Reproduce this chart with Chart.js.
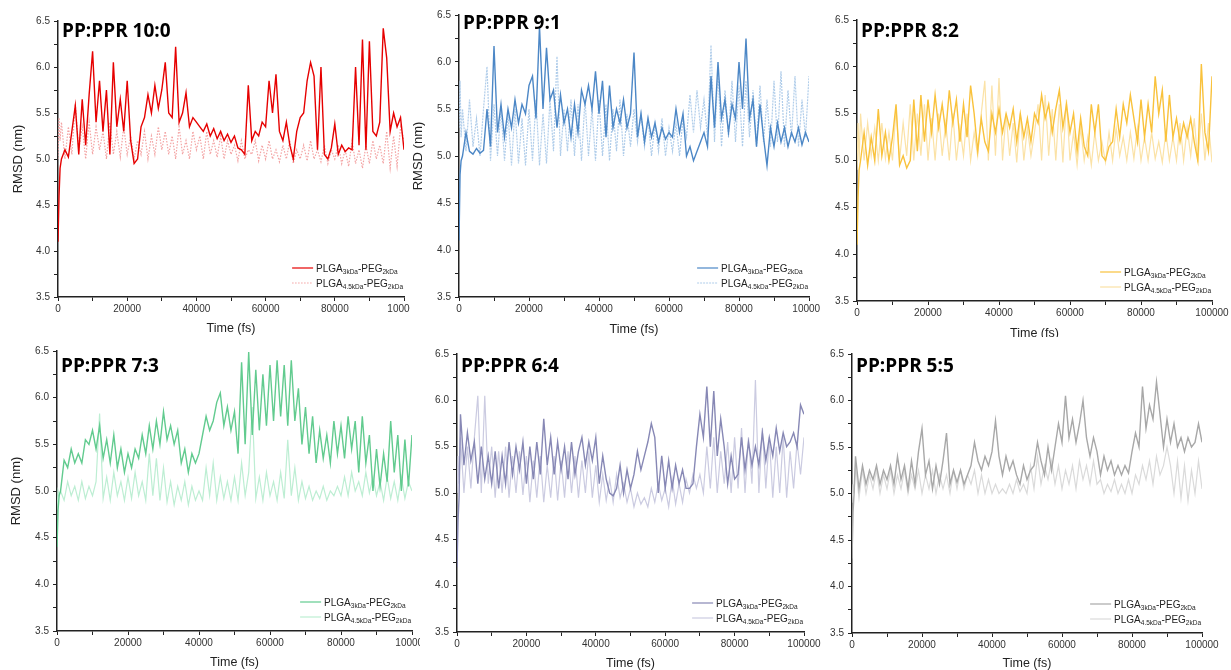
<!DOCTYPE html>
<html>
<head>
<meta charset="utf-8">
<script src="https://cdn.jsdelivr.net/npm/chart.js@4.4.0/dist/chart.umd.min.js"></script>
<style>
body { margin: 0; background: #fff; width: 1231px; height: 670px; overflow: hidden; position: relative; }
canvas { position: absolute; background: #fff; }
</style>
</head>
<body>
<canvas id="c1"></canvas>
<canvas id="c2"></canvas>
<canvas id="c3"></canvas>
<canvas id="c4"></canvas>
<canvas id="c5"></canvas>
<canvas id="c6"></canvas>
<script>
// time axis (fs)
var times = [0, 300, 600,
  1000, 2000, 3000, 4000, 5000, 6000, 7000, 8000, 9000, 10000,
  11000, 12000, 13000, 14000, 15000, 16000, 17000, 18000, 19000, 20000,
  21000, 22000, 23000, 24000, 25000, 26000, 27000, 28000, 29000, 30000,
  31000, 32000, 33000, 34000, 35000, 36000, 37000, 38000, 39000, 40000,
  41000, 42000, 43000, 44000, 45000, 46000, 47000, 48000, 49000, 50000,
  51000, 52000, 53000, 54000, 55000, 56000, 57000, 58000, 59000, 60000,
  61000, 62000, 63000, 64000, 65000, 66000, 67000, 68000, 69000, 70000,
  71000, 72000, 73000, 74000, 75000, 76000, 77000, 78000, 79000, 80000,
  81000, 82000, 83000, 84000, 85000, 86000, 87000, 88000, 89000, 90000,
  91000, 92000, 93000, 94000, 95000, 96000, 97000, 98000, 99000, 100000];

// PP:PPR 10:0
var r10_3k = [4.1, 4.6, 4.9,
  5.0, 5.1, 5.02, 5.3, 5.58, 5.05, 5.65, 5.15, 5.7, 6.17,
  5.4, 5.85, 5.3, 5.75, 5.05, 6.05, 5.35, 5.65, 5.3, 5.85,
  5.2, 4.95, 5.0, 5.35, 5.45, 5.7, 5.5, 5.8, 5.55, 5.75,
  6.05, 5.5, 5.45, 6.22, 5.4, 5.5, 5.72, 5.35, 5.45, 5.4,
  5.35, 5.3, 5.38, 5.25, 5.33, 5.22, 5.3, 5.2, 5.27, 5.18,
  5.25, 5.12, 5.1, 5.05, 5.8, 5.2, 5.3, 5.25, 5.4, 5.35,
  5.85, 5.5, 5.92, 5.3, 5.2, 5.4, 5.15, 5.0, 5.3, 5.45,
  5.5, 5.85, 6.05, 5.9, 5.1, 6.0, 5.05, 5.0, 5.12, 5.38,
  5.05, 5.15, 5.08, 5.12, 5.1, 6.0, 5.15, 6.3, 5.1, 6.28,
  5.3, 5.25, 5.4, 6.42, 6.1, 5.3, 5.5, 5.35, 5.45, 5.1];
var r10_45k = [5.0, 5.45, 5.2,
  5.4, 5.0, 5.35, 5.05, 5.6, 5.1, 5.35, 5.0, 5.4, 5.05,
  5.35, 5.1, 5.3, 5.0, 5.4, 5.05, 5.3, 5.02, 5.35, 5.05,
  5.25, 5.0, 5.2, 5.05, 5.3, 5.0, 5.25, 5.05, 5.35, 5.1,
  5.3, 5.05, 5.25, 5.0, 5.35, 5.05, 5.2, 5.0, 5.3, 5.1,
  5.25, 5.0, 5.3, 5.05, 5.2, 5.02, 5.25, 5.0, 5.2, 5.05,
  5.15, 4.98, 5.2, 5.0, 5.1, 5.05, 5.2, 4.98, 5.15, 5.0,
  5.2, 5.0, 5.1, 4.97, 5.15, 5.0, 5.2, 4.95, 5.1, 5.0,
  5.15, 4.98, 5.2, 5.0, 5.1, 4.97, 5.15, 4.95, 5.1, 5.0,
  5.15, 4.95, 5.1, 4.92, 5.2, 4.95, 5.1, 4.9, 5.15, 4.95,
  5.2, 5.0, 5.15, 4.95, 5.3, 4.9, 5.25, 4.92, 5.35, 5.2];

// PP:PPR 9:1
var r9_3k = [4.1, 4.8, 4.95,
  5.0, 5.25, 5.05, 5.02, 5.08, 5.03, 5.06, 5.5, 5.1, 6.17,
  5.25, 5.55, 5.2, 5.5, 5.3, 5.6, 5.35, 5.55, 5.45, 5.75,
  5.85, 5.4, 6.38, 5.5, 6.15, 5.6, 5.7, 5.3, 5.65, 5.35,
  5.5, 5.2, 5.55, 5.25, 5.7, 5.55, 5.75, 5.5, 5.9, 5.45,
  5.8, 5.2, 5.75, 5.3, 5.5, 5.35, 5.6, 5.3, 5.45, 6.1,
  5.2, 5.45, 5.15, 5.4, 5.2, 5.35, 5.15, 5.3, 5.18, 5.25,
  5.2, 5.5, 5.25, 5.45, 5.0, 5.1, 4.95, 5.05, 5.15, 5.25,
  5.1, 5.85, 5.3, 6.0, 5.4, 5.6, 5.25, 5.55, 5.4, 6.0,
  5.5, 6.25, 5.4, 5.6, 5.1, 5.55, 5.2, 4.9, 5.3, 5.1,
  5.35, 5.15, 5.3, 5.1, 5.25, 5.15, 5.3, 5.12, 5.25, 5.15];
var r9_45k = [5.3, 5.8, 5.2,
  5.5, 5.05, 5.6, 5.1, 5.4, 5.0, 5.5, 5.95, 4.95, 5.55,
  5.0, 5.5, 4.95, 5.45, 4.9, 5.5, 4.92, 5.4, 4.9, 5.5,
  4.95, 5.6, 4.9, 5.45, 4.92, 5.6, 5.05, 6.06, 5.0, 5.5,
  5.05, 5.6, 5.0, 5.55, 4.95, 5.6, 5.0, 5.5, 4.95, 5.6,
  5.0, 5.55, 4.95, 5.5, 5.05, 5.6, 5.0, 5.45, 5.1, 5.5,
  5.15, 5.45, 5.1, 5.4, 5.0, 5.35, 5.05, 5.4, 5.0, 5.3,
  5.05, 5.35, 5.0, 5.4, 5.2, 5.65, 5.25, 5.7, 5.3, 5.6,
  5.2, 6.18, 5.15, 5.9, 5.1, 5.7, 5.2, 5.8, 5.15, 5.75,
  5.1, 5.8, 5.2, 5.7, 5.1, 5.75, 5.15, 5.6, 5.1, 5.8,
  5.15, 5.9, 5.1, 5.7, 5.2, 5.85, 5.1, 5.6, 5.2, 5.85];

// PP:PPR 8:2
var r8_3k = [4.1, 4.6, 4.9,
  5.0, 5.3, 4.95, 5.25, 5.0, 5.55, 5.05, 5.3, 5.0, 5.25,
  5.6, 4.95, 5.05, 4.92, 5.0, 5.65, 5.1, 5.7, 5.2, 5.65,
  5.3, 5.7, 5.35, 5.6, 5.3, 5.75, 5.4, 5.65, 5.2, 5.6,
  5.25, 5.8, 5.5, 5.1, 5.45, 5.2, 5.1, 5.5, 5.3, 5.55,
  5.3, 5.5, 5.35, 5.55, 5.2, 5.5, 5.25, 5.45, 5.2, 5.5,
  5.4, 5.7, 5.45, 5.6, 5.3, 5.55, 5.75, 5.35, 5.6, 5.3,
  5.5, 5.1, 5.45, 5.15, 5.05, 5.6, 5.3, 5.6, 5.05, 5.0,
  5.15, 5.2, 5.55, 5.25, 5.6, 5.4, 5.7, 5.45, 5.2, 5.65,
  5.25, 5.6, 5.3, 5.9, 5.5, 5.75, 5.2, 5.7, 5.25, 5.45,
  5.2, 5.4, 5.25, 5.45, 5.2, 5.0, 6.03, 5.3, 5.1, 5.9];
var r8_45k = [4.9, 5.4, 5.0,
  5.5, 5.0, 5.4, 5.05, 5.35, 5.0, 5.4, 5.02, 5.3, 5.0,
  5.55, 5.0, 5.4, 5.05, 5.6, 5.0, 5.5, 5.05, 5.6, 5.0,
  5.45, 5.0, 5.5, 5.05, 5.4, 5.0, 5.5, 5.0, 5.35, 5.05,
  5.5, 5.0, 5.3, 5.05, 5.5, 5.85, 5.0, 5.8, 5.05, 5.88,
  5.0, 5.5, 5.05, 5.4, 4.98, 5.5, 5.0, 5.35, 5.05, 5.3,
  5.6, 5.0, 5.7, 5.05, 5.55, 5.0, 5.6, 4.98, 5.65, 5.0,
  5.3, 4.95, 5.35, 5.0, 5.25, 4.95, 5.3, 5.0, 5.2, 4.98,
  5.3, 5.0, 5.35, 5.05, 5.25, 5.0, 5.3, 5.02, 5.35, 5.0,
  5.25, 5.0, 5.3, 5.02, 5.2, 4.98, 5.3, 5.0, 5.25, 5.0,
  5.4, 5.0, 5.35, 5.05, 5.45, 4.98, 5.5, 5.0, 5.4, 4.98];

// PP:PPR 7:3
var r7_3k = [4.4, 4.8, 4.95,
  5.0, 5.33, 5.25, 5.45, 5.3, 5.4, 5.3, 5.55, 5.5, 5.65,
  5.45, 5.7, 5.35, 5.55, 5.3, 5.6, 5.25, 5.45, 5.2, 5.4,
  5.25, 5.45, 5.35, 5.6, 5.4, 5.7, 5.45, 5.75, 5.5, 5.85,
  5.55, 5.7, 5.5, 5.65, 5.3, 5.45, 5.2, 5.4, 5.3, 5.4,
  5.6, 5.8, 5.65, 5.75, 5.95, 6.05, 5.7, 5.9, 5.65, 5.85,
  5.4, 6.38, 5.5, 6.49, 5.6, 6.3, 5.65, 6.25, 5.7, 6.35,
  5.75, 6.4, 5.8, 6.35, 5.7, 6.4, 5.75, 6.1, 5.5, 5.9,
  5.4, 5.8, 5.3, 5.65, 5.35, 5.6, 5.3, 5.75, 5.4, 5.7,
  5.35, 5.8, 5.45, 5.75, 5.2, 5.8, 5.3, 5.6, 5.0, 5.45,
  5.05, 5.4, 5.1, 5.75, 5.2, 5.6, 5.0, 5.55, 5.05, 5.6];
var r7_45k = [4.8, 5.0, 4.95,
  5.0, 4.9, 5.1, 4.95, 5.05, 4.9, 5.1, 4.92, 5.05, 4.95,
  5.1, 5.83, 4.92, 5.15, 4.9, 5.2, 4.95, 5.1, 4.9, 5.15,
  4.92, 5.2, 4.95, 5.1, 4.9, 5.4, 4.95, 5.35, 4.9, 5.25,
  4.88, 5.1, 4.85, 5.05, 4.9, 5.1, 4.85, 5.05, 4.9, 5.0,
  4.9, 5.25, 4.95, 5.3, 4.9, 5.15, 4.92, 5.1, 4.9, 5.15,
  4.9, 5.3, 4.95, 5.2, 5.9, 4.92, 5.15, 4.9, 5.2, 4.95,
  5.1, 4.9, 5.2, 4.92, 5.55, 4.95, 5.25, 4.9, 5.1, 4.92,
  5.05, 4.9, 5.0, 4.92, 5.05, 4.9, 5.0, 4.95, 5.05, 4.95,
  5.15, 4.95, 5.2, 5.0, 5.1, 4.95, 5.2, 4.98, 5.15, 4.95,
  5.1, 4.9, 5.15, 4.92, 5.1, 4.9, 5.15, 4.92, 5.1, 5.0];

// PP:PPR 6:4
var r6_3k = [4.2, 4.7, 4.95,
  5.85, 5.3, 5.65, 5.35, 5.55, 5.1, 5.5, 5.15, 5.4, 5.1,
  5.45, 5.05, 5.4, 5.1, 5.55, 5.2, 5.5, 5.25, 5.55, 5.1,
  5.5, 5.15, 5.55, 5.2, 5.8, 5.3, 5.6, 5.2, 5.55, 5.25,
  5.5, 5.15, 5.55, 5.2, 5.45, 5.6, 5.3, 5.55, 5.35, 5.6,
  5.1, 5.4, 5.15, 5.0, 4.97, 5.05, 5.3, 5.0, 5.25, 5.05,
  5.2, 5.45, 5.25, 5.4, 5.55, 5.75, 5.6, 5.0, 5.4, 5.05,
  5.35, 5.05, 5.3, 5.1, 5.25, 5.05, 5.05, 5.1, 5.5, 5.85,
  5.6, 6.15, 5.5, 6.1, 5.4, 5.8, 5.5, 5.1, 5.4, 5.15,
  5.2, 5.6, 5.25, 5.55, 5.3, 5.5, 5.3, 5.65, 5.35, 5.6,
  5.4, 5.7, 5.45, 5.65, 5.5, 5.55, 5.65, 5.5, 5.95, 5.85];
var r6_45k = [5.0, 5.4, 5.1,
  5.6, 5.0, 5.5, 5.05, 5.6, 6.05, 5.0, 6.05, 5.1, 5.5,
  4.95, 5.45, 5.0, 5.5, 4.95, 5.4, 5.0, 5.45, 4.98, 5.4,
  4.9, 5.35, 4.95, 5.4, 4.9, 5.3, 4.95, 5.4, 4.92, 5.35,
  4.95, 5.45, 5.0, 5.4, 4.95, 5.35, 5.0, 5.45, 4.95, 5.3,
  4.9, 5.2, 4.92, 5.15, 4.9, 5.2, 4.95, 5.1, 4.9, 5.05,
  4.85, 5.0, 4.88, 4.95, 4.85, 5.05, 4.9, 5.1, 4.92, 5.05,
  4.85, 5.15, 4.88, 5.1, 4.9, 5.15, 5.0, 5.2, 5.05, 5.2,
  5.0, 5.5, 5.05, 5.6, 5.0, 5.45, 5.1, 5.55, 5.0, 5.6,
  5.05, 5.7, 5.0, 5.6, 5.1, 6.22, 5.0, 5.7, 5.05, 5.6,
  4.95, 5.5, 5.0, 5.6, 4.95, 5.45, 5.05, 5.55, 5.2, 5.6];

// PP:PPR 5:5
var r5_3k = [4.3, 4.8, 5.0,
  5.4, 5.05, 5.3, 5.1, 5.25, 5.15, 5.3, 5.1, 5.25, 5.15,
  5.3, 5.1, 5.4, 5.15, 5.3, 5.05, 5.35, 5.1, 5.45, 5.7,
  5.2, 5.35, 5.05, 5.3, 5.1, 5.35, 5.65, 5.1, 5.25, 5.12,
  5.25, 5.1, 5.2, 5.3, 5.55, 5.35, 5.25, 5.4, 5.3, 5.45,
  5.78, 5.4, 5.2, 5.4, 5.25, 5.35, 5.2, 5.1, 5.3, 5.15,
  5.25, 5.3, 5.55, 5.35, 5.2, 5.5, 5.25, 5.5, 5.75, 5.55,
  6.05, 5.6, 5.8, 5.55, 5.75, 6.0, 5.6, 5.4, 5.6, 5.45,
  5.2, 5.4, 5.25, 5.35, 5.2, 5.3, 5.2, 5.3, 5.22, 5.45,
  5.65, 5.5, 6.15, 5.7, 5.95, 5.8, 6.2, 5.85, 5.5, 5.8,
  5.55, 5.75, 5.5, 5.6, 5.45, 5.6, 5.5, 5.55, 5.75, 5.55];
var r5_45k = [4.9, 5.1, 5.0,
  5.3, 4.95, 5.25, 5.0, 5.2, 5.05, 5.25, 5.0, 5.2, 5.05,
  5.25, 5.0, 5.2, 5.05, 5.25, 5.0, 5.2, 5.05, 5.25, 5.0,
  5.2, 5.05, 5.25, 5.0, 5.2, 5.05, 5.2, 5.0, 5.25, 5.05,
  5.25, 5.05, 5.2, 5.1, 5.25, 5.0, 5.2, 5.0, 5.15, 5.0,
  5.1, 5.0, 5.05, 5.0, 5.1, 5.0, 5.15, 5.02, 5.1, 5.0,
  5.3, 5.05, 5.4, 5.1, 5.3, 5.15, 5.35, 5.1, 5.3, 5.05,
  5.25, 5.1, 5.3, 5.05, 5.35, 5.15, 5.3, 5.1, 5.35, 5.1,
  5.15, 5.0, 5.1, 5.02, 5.15, 5.0, 5.1, 5.0, 5.15, 5.0,
  5.2, 5.1, 5.3, 5.15, 5.35, 5.1, 5.4, 5.2, 5.3, 5.5,
  5.3, 5.0, 5.35, 4.95, 5.3, 4.92, 5.25, 5.0, 5.35, 5.05];

var xLabels = [0, 20000, 40000, 60000, 80000, 100000];
var yLabels = [3.5, 4.0, 4.5, 5.0, 5.5, 6.0, 6.5];
var legendA = ["PLGA", "3kDa", "-PEG", "2kDa"];
var legendB = ["PLGA", "4.5kDa", "-PEG", "2kDa"];

// panel layout: canvas box [l,t,w,h], plot area [l,t,r,b]
var panels = [
  { id: 'c1', title: 'PP:PPR 10:0', box: [0, 0, 410, 340], area: [58, 21, 404, 297], base: 16, yTitle: 11.5, xPad: 5.5,
    dark: r10_3k, light: r10_45k, c1: '#e60000', c2: '#f3a3a3', dash: [1.5, 1.5] },
  { id: 'c2', title: 'PP:PPR 9:1', box: [410, 0, 410, 340], area: [459, 15, 809, 297], base: 14, yTitle: 1.5, xPad: 4.5,
    dark: r9_3k, light: r9_45k, c1: '#4c87c6', c2: '#b0cdea', dash: [2, 1] },
  { id: 'c3', title: 'PP:PPR 8:2', box: [820, 0, 411, 340], area: [857, 20, 1212, 301], base: 17, yTitle: null, xPad: 0.5,
    dark: r8_3k, light: r8_45k, c1: '#f9c23c', c2: '#fbe2a6', dash: [] },
  { id: 'c4', title: 'PP:PPR 7:3', box: [0, 337, 420, 333], area: [57, 351, 412, 631], base: 21, yTitle: 9.5, xPad: 1.5,
    dark: r7_3k, light: r7_45k, c1: '#62cb8f', c2: '#bdeed3', dash: [] },
  { id: 'c5', title: 'PP:PPR 6:4', box: [420, 337, 410, 333], area: [457, 354, 804, 632], base: 18, yTitle: null, xPad: 0.5,
    dark: r6_3k, light: r6_45k, c1: '#8788b5', c2: '#cbcbe1', dash: [] },
  { id: 'c6', title: 'PP:PPR 5:5', box: [828, 337, 403, 333], area: [852, 354, 1202, 633], base: 18, yTitle: null, xPad: 0,
    dark: r5_3k, light: r5_45k, c1: '#a8a8a8', c2: '#dadada', dash: [] }
];

var tickFont = { family: 'Liberation Sans', size: 10 };
var titleFont = { family: 'Liberation Sans', size: 12.5, lineHeight: 1 };

function drawLegendRow(ctx, parts, x, y) {
  ctx.fillStyle = '#222';
  ctx.textBaseline = 'alphabetic';
  var cx = x;
  for (var i = 0; i < parts.length; i++) {
    var sub = i % 2 === 1;
    ctx.font = (sub ? '6.5px' : '10px') + ' "Liberation Sans"';
    ctx.fillText(parts[i], cx, y + 3.5 + (sub ? 2.5 : 0));
    cx += ctx.measureText(parts[i]).width;
  }
  return cx - x;
}

function rowWidth(ctx, parts) {
  var w = 0;
  for (var i = 0; i < parts.length; i++) {
    ctx.font = (i % 2 === 1 ? '6.5px' : '10px') + ' "Liberation Sans"';
    w += ctx.measureText(parts[i]).width;
  }
  return w;
}

panels.forEach(function (p) {
  var cv = document.getElementById(p.id);
  cv.width = p.box[2];
  cv.height = p.box[3];
  cv.style.left = p.box[0] + 'px';
  cv.style.top = p.box[1] + 'px';

  var textPlugin = {
    id: 'panelText' + p.id,
    afterDraw: function (chart) {
      var ctx = chart.ctx, a = chart.chartArea;
      ctx.save();
      ctx.fillStyle = '#000';
      ctx.font = 'bold 19px "Open Sans"';
      ctx.textBaseline = 'alphabetic';
      ctx.fillText(p.title, a.left + 4, a.top + p.base);

      var w = Math.max(rowWidth(ctx, legendA), rowWidth(ctx, legendB));
      var tx = a.right - w - 1;
      var rows = [[legendA, p.c1, [], a.bottom - 29], [legendB, p.c2, p.dash, a.bottom - 14]];
      rows.forEach(function (r) {
        ctx.strokeStyle = r[1];
        ctx.lineWidth = 1.2;
        ctx.setLineDash(r[2]);
        ctx.beginPath();
        ctx.moveTo(tx - 24, r[3]);
        ctx.lineTo(tx - 3, r[3]);
        ctx.stroke();
        ctx.setLineDash([]);
        drawLegendRow(ctx, r[0], tx, r[3]);
      });
      ctx.restore();
    }
  };

  new Chart(cv.getContext('2d'), {
    type: 'line',
    data: {
      labels: times,
      datasets: [{
        label: 'PLGA3kDa-PEG2kDa',
        data: p.dark,
        borderColor: p.c1,
        borderWidth: 1.4,
        pointRadius: 0,
        tension: 0
      }, {
        label: 'PLGA4.5kDa-PEG2kDa',
        data: p.light,
        borderColor: p.c2,
        borderWidth: 1.2,
        borderDash: p.dash,
        pointRadius: 0,
        tension: 0
      }]
    },
    options: {
      responsive: false,
      animation: false,
      devicePixelRatio: 1,
      layout: {
        padding: { left: 0, top: p.area[1] - p.box[1], right: p.box[0] + p.box[2] - p.area[2], bottom: 0 }
      },
      plugins: { legend: { display: false }, tooltip: { enabled: false } },
      scales: {
        x: {
          type: 'linear',
          min: 0,
          max: 100000,
          border: { color: '#222', width: 1.5 },
          grid: { drawOnChartArea: false, color: '#222', tickLength: 4 },
          ticks: {
            stepSize: 10000,
            autoSkip: false,
            maxRotation: 0,
            padding: 2,
            color: '#333',
            font: tickFont,
            callback: function (v) { return xLabels.indexOf(v) >= 0 ? String(v) : ''; }
          },
          title: { display: true, text: 'Time (fs)', color: '#222', font: titleFont, padding: { top: 0, bottom: p.xPad } },
          afterFit: function (s) {
            s.height = p.box[1] + p.box[3] - p.area[3];
            s.paddingLeft = 0; s.paddingRight = 0;
          }
        },
        y: {
          min: 3.5,
          max: 6.5,
          border: { color: '#222', width: 1.5 },
          grid: { drawOnChartArea: false, color: '#222', tickLength: 4 },
          ticks: {
            stepSize: 0.25,
            autoSkip: false,
            padding: 4,
            color: '#333',
            font: tickFont,
            callback: function (v) {
              for (var i = 0; i < yLabels.length; i++) {
                if (Math.abs(yLabels[i] - v) < 1e-6) return yLabels[i].toFixed(1);
              }
              return '';
            }
          },
          title: { display: p.yTitle !== null, text: 'RMSD (nm)', color: '#222', font: { family: 'Liberation Sans', size: 13, lineHeight: 1 }, padding: { top: p.yTitle || 0, bottom: 0 } },
          afterFit: function (s) {
            s.width = p.area[0] - p.box[0];
            s.paddingTop = 0; s.paddingBottom = 0;
          }
        }
      }
    },
    plugins: [textPlugin]
  });
});
</script>
</body>
</html>
